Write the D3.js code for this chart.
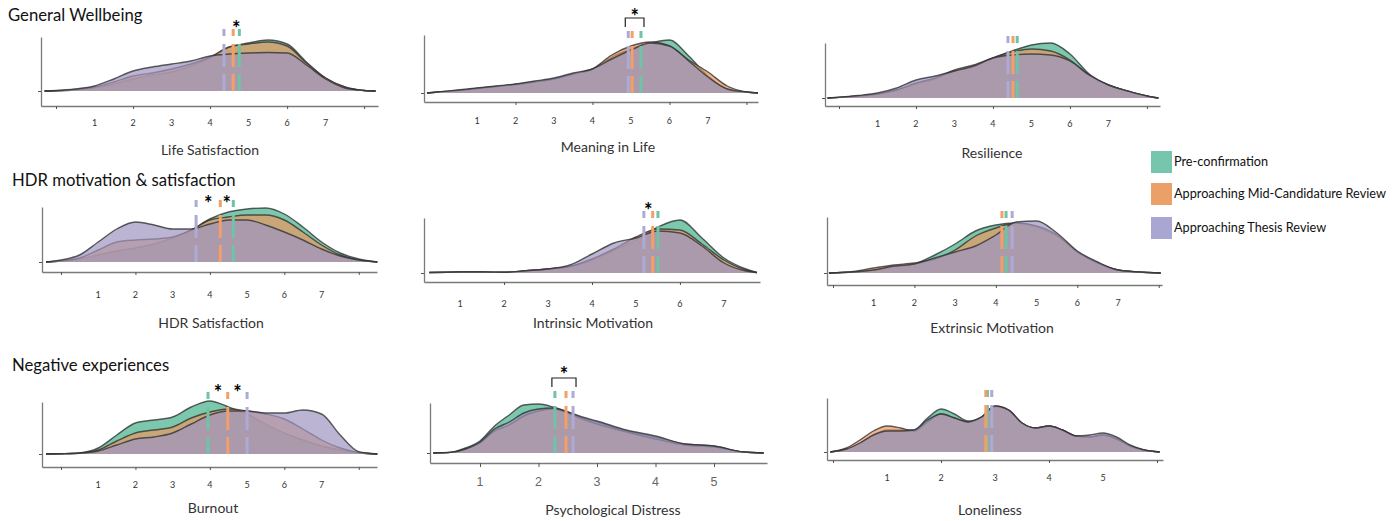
<!DOCTYPE html>
<html>
<head>
<meta charset="utf-8">
<script src="https://cdn.jsdelivr.net/npm/d3@7"></script>
<style>
  body { margin: 0; background: #fff; }
  text { font-family: Lato, "Open Sans", sans-serif; }
</style>
</head>
<body>
<div id="chart"></div>
<script>
const groups = ["Pre-confirmation", "Approaching Mid-Candidature Review", "Approaching Thesis Review"]
const sections = ["General Wellbeing", "HDR motivation & satisfaction", "Negative experiences"]
const measures = ["Life Satisfaction", "Meaning in Life", "Resilience",
  "HDR Satisfaction", "Intrinsic Motivation", "Extrinsic Motivation",
  "Burnout", "Psychological Distress", "Loneliness"]

const labels7 = [1, 2, 3, 4, 5, 6, 7]
const labels5 = [1, 2, 3, 4, 5]

// density curves (score grid + relative density per group)
const gridWell = [-0.3, 0, 0.5, 1, 1.5, 2, 2.5, 3, 3.5, 4, 4.5, 5, 5.5, 6, 6.5, 7, 7.5, 8, 8.3]
const lifePre = [0, 0.2, 1, 3, 7, 12, 16, 19, 25, 33, 44, 48, 51, 47, 29, 13, 4, 0.5, 0]
const lifeMid = [0, 0.3, 1.5, 4, 9, 15, 18, 22, 27, 34, 44, 47, 49, 45, 28, 13, 4, 0.5, 0]
const lifeThesis = [0, 0.5, 2, 5, 12, 20, 24, 27, 30, 35, 37, 38, 38.5, 38, 26, 12, 3, 0.5, 0]

const meaningPre = [0, 1, 2.5, 4.5, 6.5, 8.5, 11, 14, 19, 24, 36, 44, 50, 53, 37, 17, 4, 1, 0]
const meaningMid = [0, 1, 2.5, 4.5, 6.5, 8.5, 11, 14, 19, 24, 38, 47, 51, 47, 33, 21, 7, 1, 0]
const meaningThesis = [0, 1, 3, 5, 7, 9, 12, 15, 20, 24, 34, 43, 50, 47, 32, 16, 4, 1, 0]

const resPre = [0, 0.6, 2, 4, 8, 14, 19, 27, 31, 40, 47, 53, 55, 44, 24, 13, 7, 2, 0]
const resMid = [0, 0.6, 2, 4, 8, 15, 20, 28, 33, 40, 46, 49, 47, 38, 23, 13, 7, 2, 0]
const resThesis = [0, 0.7, 2.5, 5, 10, 18, 22, 27, 32, 40, 43, 44, 43, 37, 23, 13, 7, 2, 0]

const gridWide = [-0.4, 0, 0.5, 1, 1.5, 2, 2.5, 3, 3.5, 4, 4.5, 5, 5.5, 6, 6.5, 7, 7.5, 8, 8.5]
const hdrPre = [0, 1, 3, 7, 11, 14, 18, 24, 32, 43, 50, 53, 54, 48, 35, 20, 9, 3, 0]
const hdrMid = [0, 1, 4, 12, 20, 22, 23, 25, 32, 42, 45, 47, 47, 42, 30, 17, 7, 2, 0]
const hdrThesis = [0, 2, 7, 20, 33, 40, 37, 33, 33, 38, 42, 42, 37, 30, 22, 13, 6, 2, 0]

const gridIntr = [0.3, 1, 1.5, 2, 2.5, 3, 3.5, 4, 4.5, 5, 5.5, 6, 6.5, 7, 7.5, 7.75]
const intrPre = [0.5, 1, 1, 0.7, 2.3, 4, 6.5, 13, 23, 33, 46, 53, 35, 15, 4, 0.5]
const intrMid = [0.5, 1, 1, 0.7, 2.3, 4, 6.5, 14, 24, 36, 44, 43, 29, 13, 3, 0.5]
const intrThesis = [0.5, 1, 1, 0.7, 2.3, 4, 8, 19, 30, 35, 42, 40, 27, 10, 2, 0.3]

const gridExtr = [-0.1, 0.5, 1, 1.5, 2, 2.5, 3, 3.5, 4, 4.5, 5, 5.5, 6, 6.5, 7, 7.5, 8.05]
const extrPre = [0, 1, 3, 6, 9, 18, 29, 42, 48, 50, 46, 37, 21, 10, 3, 1, 0]
const extrMid = [0, 1.5, 5, 8, 10, 14, 23, 37, 45, 50, 47, 38, 21, 10, 3, 1, 0]
const extrThesis = [0, 1, 3, 7, 9, 15, 21, 27, 38, 51, 52, 40, 22, 11, 3, 1, 0]

const burnPre = [0, 0.3, 1, 6, 19, 31, 34, 37, 47, 53, 47, 40, 30, 21, 14, 8, 4, 1, 0]
const burnMid = [0, 0.3, 1, 4, 13, 21, 24, 27, 36, 42, 45, 43, 40, 35, 25, 14, 6, 1.5, 0]
const burnThesis = [0, 0.2, 0.8, 3, 9, 15, 17, 21, 30, 39, 43, 43, 41, 41, 44, 40, 19, 2.3, 0]

const gridDist = [0.2, 0.5, 0.75, 1, 1.25, 1.5, 1.75, 2, 2.25, 2.5, 2.75, 3, 3.5, 4, 4.5, 5, 5.5, 5.85]
const distPre = [0, 0.7, 5, 12, 27, 38, 48, 49, 46, 41, 35, 31, 22, 16, 9, 7, 1, 0]
const distMid = [0, 0.6, 4, 10, 22, 28, 37, 42, 44, 40, 34, 29, 21, 14, 8, 6, 1, 0]
const distThesis = [0, 0.6, 4, 11, 24, 31, 40, 44, 45, 41, 36, 32, 23, 17, 9, 7, 1, 0]

const gridLone = [-0.05, 0.25, 0.5, 0.75, 1, 1.25, 1.5, 1.75, 2, 2.25, 2.5, 2.75, 3, 3.25, 3.5, 3.75, 4, 4.25, 4.5, 4.75, 5, 5.25, 5.5, 5.75, 6.05]
const lonePre = [0, 3, 9, 17, 22, 22, 22, 34, 43, 38, 31, 35, 45, 42, 29, 24, 26, 22, 16, 15, 17, 13, 6, 2, 0]
const loneMid = [0, 4, 12, 21, 26, 24, 21, 30, 38, 34, 30, 35, 46, 42, 29, 24, 26, 22, 16, 15, 17, 13, 6, 2, 0]
const loneThesis = [0, 3, 9, 17, 21, 21, 22, 32, 38, 34, 30, 35, 46, 42, 29, 24, 26, 22, 16, 17, 19, 15, 7, 2.3, 0]

// group means (dashed lines)
const meansPre = [4.76, 5.26, 4.63, 4.63, 5.5, 4.25, 3.95, 2.28, 2.86]
const meansMid = [4.6, 5.03, 4.52, 4.28, 5.38, 4.15, 4.48, 2.47, 2.83]
const meansThesis = [4.36, 4.93, 4.39, 3.63, 5.18, 4.4, 5.0, 2.59, 2.94]

// significant differences: panel, the two groups, marker kind
const sigPanel = [0, 1, 3, 3, 4, 6, 6, 7]
const sigA = [1, 2, 2, 1, 2, 0, 1, 0]
const sigB = [0, 0, 1, 0, 1, 1, 2, 2]
const sigKind = ["star", "bracket", "star", "star", "star", "star", "star", "bracket"]

const panelData = [
  [gridWell, lifePre, lifeMid, lifeThesis, labels7],
  [gridWell, meaningPre, meaningMid, meaningThesis, labels7],
  [gridWell, resPre, resMid, resThesis, labels7],
  [gridWide, hdrPre, hdrMid, hdrThesis, labels7],
  [gridIntr, intrPre, intrMid, intrThesis, labels7],
  [gridExtr, extrPre, extrMid, extrThesis, labels7],
  [gridWide, burnPre, burnMid, burnThesis, labels7],
  [gridDist, distPre, distMid, distThesis, labels5],
  [gridLone, lonePre, loneMid, loneThesis, labels5]
]

// layout of each small panel (pixels)
const layout = [
  {left: 41, right: 378, xMin: -0.39, xMax: 8.36, axisY: 106, base: 91, top: 37, labelY: 123, titleX: 210, titleY: 150, ticks: [0, 2, 4, 6, 8], star: 67},
  {left: 424, right: 758, xMin: -0.377, xMax: 8.30, axisY: 102, base: 93, top: 35, labelY: 121, titleX: 608, titleY: 147, ticks: [2, 4, 6, 8], star: 81},
  {left: 825, right: 1160, xMin: -0.364, xMax: 8.34, axisY: 106, base: 98, top: 43, labelY: 124, titleX: 992, titleY: 153, ticks: [0, 2, 4, 6, 8]},
  {left: 42, right: 377, xMin: -0.51, xMax: 8.49, axisY: 272, base: 262, top: 207, labelY: 295, titleX: 211, titleY: 323, ticks: [0, 2, 4, 6, 8], star: 63.5},
  {left: 424, right: 760, xMin: 0.18, xMax: 7.82, axisY: 282, base: 273, top: 218, labelY: 304, titleX: 593, titleY: 323, ticks: [2, 4, 6], star: 67},
  {left: 827, right: 1162, xMin: -0.147, xMax: 8.08, axisY: 285, base: 273, top: 217, labelY: 303, titleX: 992, titleY: 328, ticks: [0, 2, 4, 6, 8]},
  {left: 42, right: 377, xMin: -0.51, xMax: 8.49, axisY: 467, base: 454, top: 402, labelY: 485, titleX: 213, titleY: 508, ticks: [0, 2, 4, 6, 8], star: 66},
  {left: 430, right: 767, xMin: 0.145, xMax: 5.906, axisY: 463, base: 453, top: 403, labelY: 482, titleX: 613, titleY: 510, ticks: [1, 2, 3, 4, 5], big: true, star: 83},
  {left: 827, right: 1163, xMin: -0.111, xMax: 6.111, axisY: 460, base: 452, top: 398, labelY: 478, titleX: 990, titleY: 510, ticks: [0, 2, 4, 6]}
]

const fills = ["#74c5a8", "#e99763", "#9e96c0"]
const fillOpacity = [0.95, 0.7, 0.7]
const meanColors = ["#6fc4a6", "#f2a067", "#aeaad6"]
const legendColors = ["#76c5ad", "#eba067", "#aaa6d2"]
const meanLen = 62

const svg = d3.select("#chart").append("svg")
  .attr("width", 1400)
  .attr("height", 521)

const means = [meansPre, meansMid, meansThesis]
const scales = []

panelData.forEach((pd, i) => {
  const L = layout[i]
  const grid = pd[0]
  const g = svg.append("g")

  const x = d3.scaleLinear().domain([L.xMin, L.xMax]).range([L.left, L.right])
  const y = d3.scaleLinear().domain([0, 60]).range([L.base, L.base - 60])
  scales.push({x, y})

  // axes
  const xAxis = g.append("g")
    .attr("transform", `translate(0,${L.axisY})`)
    .call(d3.axisBottom(x).tickValues(L.ticks).tickFormat("").tickSize(L.big ? 4 : 3).tickSizeOuter(0))
  xAxis.select(".domain").attr("stroke", "#7a7a7a").attr("stroke-width", 1.3)
  xAxis.selectAll(".tick line").attr("stroke", "#555")

  const yAxisScale = y.copy().domain([y.invert(L.axisY), y.invert(L.top)]).range([L.axisY, L.top])
  const yAxis = g.append("g")
    .attr("transform", `translate(${L.left},0)`)
    .call(d3.axisLeft(yAxisScale).tickValues([0]).tickFormat("").tickSize(3).tickSizeOuter(0))
  yAxis.select(".domain").attr("stroke", "#7a7a7a").attr("stroke-width", 1.3)
  yAxis.selectAll(".tick line").attr("stroke", "#555")

  // densities
  const area = d3.area().x(d => x(d[0])).y0(y(0)).y1(d => y(d[1])).curve(d3.curveMonotoneX)
  const line = d3.line().x(d => x(d[0])).y(d => y(d[1])).curve(d3.curveMonotoneX)
  for (let k = 0; k < 3; k++) {
    const pts = grid.map((v, j) => [v, pd[k + 1][j]])
    g.append("path").datum(pts)
      .attr("d", area)
      .attr("fill", fills[k])
      .attr("fill-opacity", fillOpacity[k])
    g.append("path").datum(pts)
      .attr("d", line)
      .attr("fill", "none")
      .attr("stroke", "#333")
      .attr("stroke-opacity", 0.8)
      .attr("stroke-width", 1.4)
  }

  // mean lines
  for (let k = 0; k < 3; k++) {
    const m = means[k][i]
    g.append("path")
      .attr("d", `M${x(m)},${y(meanLen)}V${y(0)}`)
      .attr("stroke", meanColors[k])
      .attr("stroke-width", 3)
      .attr("stroke-dasharray", "7,8,23,7,18")
  }

  // tick labels
  g.selectAll(".lbl").data(pd[4]).enter().append("text")
    .attr("x", d => x(d))
    .attr("y", L.labelY)
    .attr("dy", "0.35em")
    .attr("text-anchor", "middle")
    .style("font-family", L.big ? "'Liberation Sans', Arial, sans-serif" : null)
    .attr("font-size", L.big ? 12.5 : 9)
    .attr("fill", L.big ? "#666" : "#333")
    .text(d => d)

  g.append("text")
    .attr("x", L.titleX)
    .attr("y", L.titleY)
    .attr("dy", "0.35em")
    .attr("text-anchor", "middle")
    .attr("font-size", 14)
    .attr("fill", "#333")
    .text(measures[i])
})

// significance markers
sigPanel.forEach((p, s) => {
  const {x, y} = scales[p]
  const xa = x(means[sigA[s]][p])
  const xb = x(means[sigB[s]][p])
  const mid = (xa + xb) / 2
  if (sigKind[s] === "bracket") {
    const lo = Math.min(xa, xb) - 3
    const hi = Math.max(xa, xb) + 3
    svg.append("path")
      .attr("d", `M${lo},${y(66)}V${y(75)}H${hi}V${y(66)}`)
      .attr("fill", "none")
      .attr("stroke", "#222")
      .attr("stroke-width", 1.2)
  }
  svg.append("text")
    .attr("x", mid)
    .attr("y", y(layout[p].star) + 12.4)
    .attr("text-anchor", "middle")
    .attr("font-size", 20)
    .attr("font-weight", "bold")
    .text("*")
})

// section headings
const headX = [8, 12, 12]
const headY = [21, 186, 371]
sections.forEach((s, i) => {
  svg.append("text")
    .attr("x", headX[i])
    .attr("y", headY[i])
    .attr("font-size", 16.7)
    .attr("fill", "#111")
    .text(s)
})

// legend
const legend = svg.append("g").attr("transform", "translate(1151,151)")
const rowY = [0, 32, 66]
groups.forEach((name, i) => {
  legend.append("rect")
    .attr("x", 0).attr("y", rowY[i])
    .attr("width", 21).attr("height", 22)
    .attr("fill", legendColors[i])
  legend.append("text")
    .attr("x", 23).attr("y", rowY[i] + 11)
    .attr("dy", "0.35em")
    .attr("font-size", 12.7)
    .attr("fill", "#111")
    .text(name)
})
</script>
</body>
</html>
